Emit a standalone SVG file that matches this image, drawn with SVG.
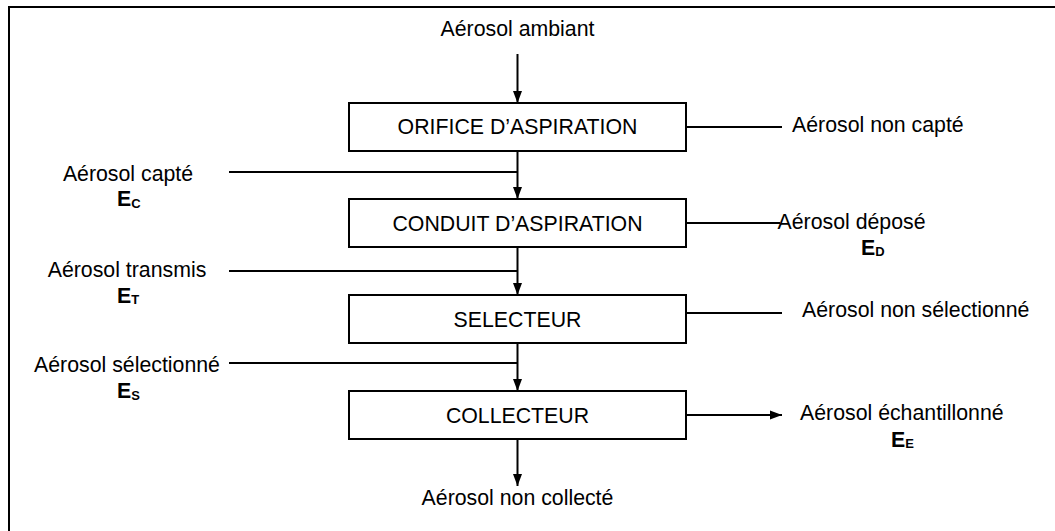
<svg xmlns="http://www.w3.org/2000/svg" width="1055" height="531" viewBox="0 0 1055 531">
<style>
text{font-family:"Liberation Sans",Arial,sans-serif;font-size:21.3px;fill:#000}
.c{text-anchor:middle}
.b{font-weight:bold}
.sub{font-size:13px;font-weight:bold}
.box{fill:#fff;stroke:#000;stroke-width:2}
.ln{stroke:#000;stroke-width:2;fill:none}
</style>
<defs>
<marker id="ah" markerUnits="userSpaceOnUse" markerWidth="12" markerHeight="10" refX="12" refY="5" orient="auto">
<path d="M0,0.5 L12,5 L0,9.5 Z" fill="#000"/>
</marker>
</defs>
<rect width="1055" height="531" fill="#fff"/>
<path class="ln" d="M9,531 V7 H1055"/>
<g id="connectors">
<line class="ln" x1="517.5" y1="54" x2="517.5" y2="103" marker-end="url(#ah)"/>
<line class="ln" x1="517.5" y1="151" x2="517.5" y2="199" marker-end="url(#ah)"/>
<line class="ln" x1="517.5" y1="247" x2="517.5" y2="295" marker-end="url(#ah)"/>
<line class="ln" x1="517.5" y1="343" x2="517.5" y2="391" marker-end="url(#ah)"/>
<line class="ln" x1="517.5" y1="439" x2="517.5" y2="486" marker-end="url(#ah)"/>
<line class="ln" x1="229" y1="172" x2="517.5" y2="172"/>
<line class="ln" x1="229" y1="271" x2="517.5" y2="271"/>
<line class="ln" x1="229" y1="363" x2="517.5" y2="363"/>
<line class="ln" x1="686" y1="127" x2="782" y2="127"/>
<line class="ln" x1="686" y1="223" x2="780" y2="223"/>
<line class="ln" x1="686" y1="313" x2="782" y2="313"/>
<line class="ln" x1="686" y1="415" x2="782" y2="415" marker-end="url(#ah)"/>
</g>
<g id="n1"><rect class="box" x="349" y="103" width="337" height="48"/><text class="c" x="517.5" y="134">ORIFICE D’ASPIRATION</text></g>
<g id="n2"><rect class="box" x="349" y="199" width="337" height="48"/><text class="c" x="517.5" y="230.5">CONDUIT D’ASPIRATION</text></g>
<g id="n3"><rect class="box" x="349" y="295" width="337" height="48"/><text class="c" x="517.5" y="326.5">SELECTEUR</text></g>
<g id="n4"><rect class="box" x="349" y="391" width="337" height="48"/><text class="c" x="517.5" y="422.5">COLLECTEUR</text></g>
<g id="labels">
<text class="c" x="517.5" y="35.5">Aérosol ambiant</text>
<text class="c" x="517.5" y="505">Aérosol non collecté</text>
<text class="c" x="128" y="180.5">Aérosol capté</text>
<text x="117" y="206" class="b">E<tspan class="sub" dy="1.5">C</tspan></text>
<text class="c" x="127" y="276.5">Aérosol transmis</text>
<text x="117" y="302.5" class="b">E<tspan class="sub" dy="1.5">T</tspan></text>
<text class="c" x="127" y="371.5">Aérosol sélectionné</text>
<text x="117" y="398" class="b">E<tspan class="sub" dy="1.5">S</tspan></text>
<text x="792" y="131.5">Aérosol non capté</text>
<text x="777.5" y="228.5">Aérosol déposé</text>
<text x="861" y="254.5" class="b">E<tspan class="sub" dy="1.5">D</tspan></text>
<text x="802" y="316.5">Aérosol non sélectionné</text>
<text x="800" y="420">Aérosol échantillonné</text>
<text x="891" y="446.5" class="b">E<tspan class="sub" dy="1.5">E</tspan></text>
</g>
</svg>
